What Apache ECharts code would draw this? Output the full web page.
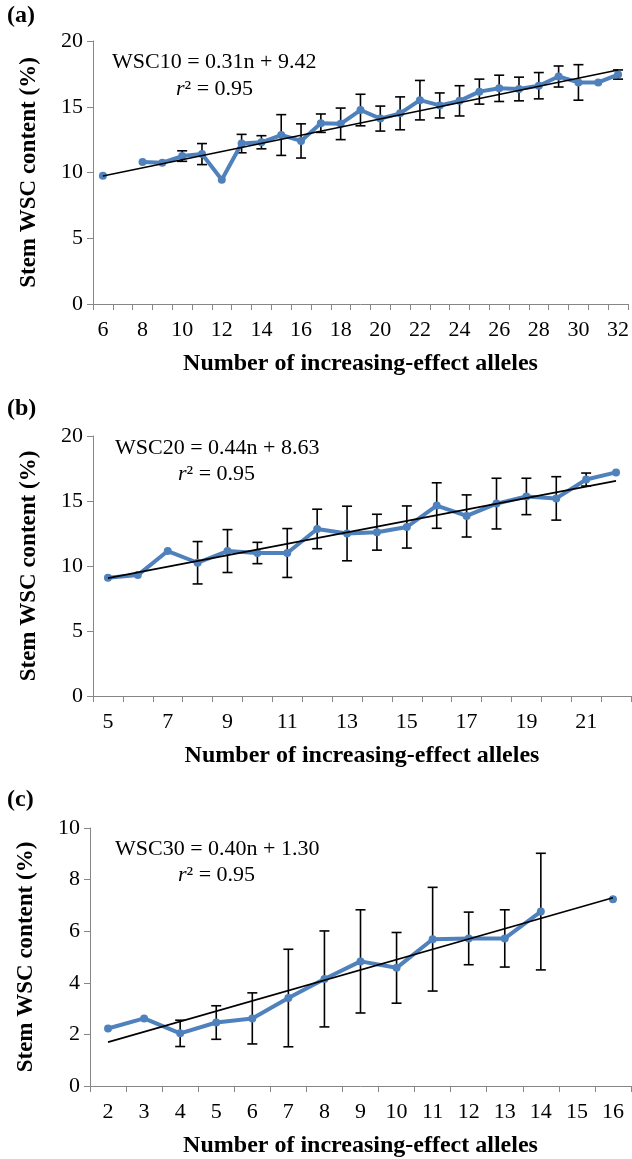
<!DOCTYPE html>
<html>
<head>
<meta charset="utf-8">
<script src="https://cdn.jsdelivr.net/npm/echarts@6/dist/echarts.min.js"></script>
<style>
  html, body { margin: 0; padding: 0; background: #fff; }
  #chart { width: 632px; height: 1159px; }
</style>
</head>
<body>
<div id="chart"></div>
<script>
// panel (a) WSC10
const catsA = ['6','7','8','9','10','11','12','13','14','15','16','17','18','19','20','21','22','23','24','25','26','27','28','29','30','31','32']
const valsA = [9.75, null, 10.8, 10.75, 11.25, 11.4, 9.45, 12.2, 12.3, 12.85, 12.4, 13.75, 13.7, 14.75, 14.1, 14.5, 15.5, 15.1, 15.45, 16.15, 16.4, 16.35, 16.6, 17.3, 16.85, 16.85, 17.45]
const errA = [null, null, null, null, 0.4, 0.8, null, 0.7, 0.5, 1.55, 1.3, 0.7, 1.2, 1.2, 0.95, 1.25, 1.5, 0.95, 1.15, 0.95, 1.0, 0.9, 1.0, 0.8, 1.35, null, 0.35]
const trendA = [9.73, 17.79]

// panel (b) WSC20
const catsB = ['5','6','7','8','9','10','11','12','13','14','15','16','17','18','19','20','21','22']
const valsB = [9.1, 9.3, 11.15, 10.25, 11.15, 11.0, 11.0, 12.85, 12.5, 12.6, 13.0, 14.65, 13.85, 14.8, 15.35, 15.2, 16.65, 17.2]
const errB = [null, null, null, 1.63, 1.65, 0.82, 1.88, 1.52, 2.1, 1.38, 1.62, 1.75, 1.62, 1.95, 1.4, 1.67, 0.5, null]
const trendB = [9.07, 16.55]

// panel (c) WSC30
const catsC = ['2','3','4','5','6','7','8','9','10','11','12','13','14','15','16']
const valsC = [2.23, 2.62, 2.04, 2.46, 2.62, 3.41, 4.15, 4.83, 4.58, 5.69, 5.72, 5.72, 6.76, null, 7.24]
const errC = [null, null, 0.51, 0.65, 0.99, 1.89, 1.86, 2.0, 1.37, 2.01, 1.02, 1.11, 2.26, null, null]
const trendC = [1.70, 7.30]

const FONT = '"Liberation Serif", "Times New Roman", serif'
const AXIS_GRAY = '#868686'
const BLUE = '#4F81BD'

const chart = echarts.init(document.getElementById('chart'))

function makeX(idx, cats, labelInterval) {
  return {
    type: 'category',
    gridIndex: idx,
    data: cats,
    boundaryGap: true,
    axisLine: { lineStyle: { color: AXIS_GRAY, width: 1 } },
    axisTick: { show: true, interval: 0, length: 6, lineStyle: { color: AXIS_GRAY } },
    axisLabel: { interval: labelInterval, color: '#000', fontFamily: FONT, fontSize: 22, margin: 15 },
    splitLine: { show: false },
    name: 'Number of increasing-effect alleles',
    nameLocation: 'middle',
    nameGap: 48,
    nameTextStyle: { color: '#000', fontFamily: FONT, fontSize: 24, fontWeight: 'bold' }
  }
}

function makeY(idx, max, interval) {
  return {
    type: 'value',
    gridIndex: idx,
    min: 0,
    max: max,
    interval: interval,
    axisLine: { show: true, lineStyle: { color: AXIS_GRAY, width: 1 } },
    axisTick: { show: true, length: 6, lineStyle: { color: AXIS_GRAY } },
    axisLabel: { color: '#000', fontFamily: FONT, fontSize: 22, margin: 10 },
    splitLine: { show: false },
    name: 'Stem WSC content (%)',
    nameLocation: 'middle',
    nameGap: 52,
    nameRotate: 90,
    nameTextStyle: { color: '#000', fontFamily: FONT, fontSize: 23, fontWeight: 'bold' }
  }
}

function errData(errs, vals) {
  const out = []
  for (let i = 0; i < errs.length; i++) {
    if (errs[i] != null && vals[i] != null) out.push([i, vals[i], errs[i]])
  }
  return out
}

function trendData(n, ends) {
  const d = new Array(n).fill(null)
  d[0] = ends[0]
  d[n - 1] = ends[1]
  return d
}

function errSeries(idx, errs, vals) {
  return {
    type: 'custom',
    xAxisIndex: idx,
    yAxisIndex: idx,
    z: 2,
    silent: true,
    data: errData(errs, vals),
    encode: { x: 0, y: 1 },
    renderItem: function (params, api) {
      const x = api.value(0)
      const v = api.value(1)
      const e = api.value(2)
      const hi = api.coord([x, v + e])
      const lo = api.coord([x, v - e])
      const w = 5
      const style = { stroke: '#000', lineWidth: 1.6, fill: null }
      return {
        type: 'group',
        children: [
          { type: 'line', shape: { x1: hi[0], y1: hi[1], x2: lo[0], y2: lo[1] }, style: style },
          { type: 'line', shape: { x1: hi[0] - w, y1: hi[1], x2: hi[0] + w, y2: hi[1] }, style: style },
          { type: 'line', shape: { x1: lo[0] - w, y1: lo[1], x2: lo[0] + w, y2: lo[1] }, style: style }
        ]
      }
    }
  }
}

function valSeries(idx, vals) {
  return {
    type: 'line',
    xAxisIndex: idx,
    yAxisIndex: idx,
    z: 3,
    data: vals,
    connectNulls: false,
    symbol: 'circle',
    symbolSize: 8,
    showSymbol: true,
    showAllSymbol: true,
    lineStyle: { color: BLUE, width: 4 },
    itemStyle: { color: BLUE },
    animation: false
  }
}

function trendSeries(idx, cats, ends) {
  return {
    type: 'line',
    xAxisIndex: idx,
    yAxisIndex: idx,
    z: 4,
    data: trendData(cats.length, ends),
    connectNulls: true,
    symbol: 'none',
    lineStyle: { color: '#000', width: 1.6 },
    animation: false
  }
}

function label(text, x, y) {
  return {
    type: 'text', left: x, top: y,
    style: { text: text, font: 'bold 24px ' + FONT, fill: '#000' }
  }
}

function equation(text, x, y) {
  return {
    type: 'text', left: x, top: y,
    style: { text: text, font: '22px ' + FONT, fill: '#000' }
  }
}

function rsq(x, y) {
  return {
    type: 'text', left: x, top: y,
    style: {
      text: '{i|r}² = 0.95',
      font: '22px ' + FONT,
      fill: '#000',
      rich: { i: { fontStyle: 'italic', fontFamily: FONT, fontSize: 22 } }
    }
  }
}

chart.setOption({
  animation: false,
  grid: [
    { left: 93, top: 41, width: 538, height: 263 },
    { left: 93, top: 436, width: 538, height: 260 },
    { left: 90, top: 828, width: 541, height: 261 }
  ],
  xAxis: [makeX(0, catsA, 1), makeX(1, catsB, 1), makeX(2, catsC, 0)],
  yAxis: [makeY(0, 20, 5), makeY(1, 20, 5), makeY(2, 10, 2)],
  graphic: [
    label('(a)', 7, 4),
    label('(b)', 7, 397),
    label('(c)', 7, 788),
    equation('WSC10 = 0.31n + 9.42', 112, 51),
    rsq(176, 78),
    equation('WSC20 = 0.44n + 8.63', 115, 437),
    rsq(178, 463),
    equation('WSC30 = 0.40n + 1.30', 115, 838),
    rsq(178, 864)
  ],
  series: [
    errSeries(0, errA, valsA), valSeries(0, valsA), trendSeries(0, catsA, trendA),
    errSeries(1, errB, valsB), valSeries(1, valsB), trendSeries(1, catsB, trendB),
    errSeries(2, errC, valsC), valSeries(2, valsC), trendSeries(2, catsC, trendC)
  ]
})
</script>
</body>
</html>
